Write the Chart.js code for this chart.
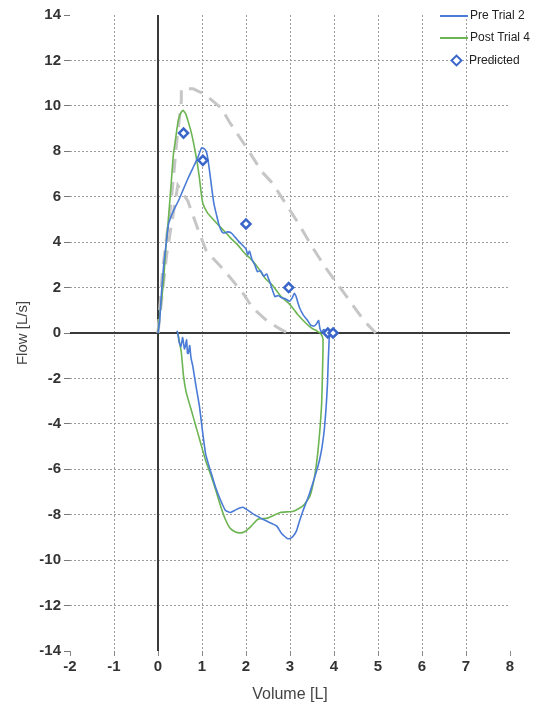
<!DOCTYPE html>
<html>
<head>
    <meta charset="UTF-8">
    <title>Flow-Volume Loop</title>
    <script src="https://cdn.jsdelivr.net/npm/chart.js"></script>
    <style>
        body { margin: 0; background: #fff; }
        #wrap { position: relative; width: 544px; height: 704px; }
        #legend { position: absolute; left: 0; top: 0; font-family: 'Liberation Sans', Arial, sans-serif; font-size: 12px; color: #222; }
        .item { position: absolute; white-space: nowrap; height: 16px; line-height: 16px; }
        .line { display: inline-block; width: 28px; height: 0; border-top: 2px solid; vertical-align: middle; margin-right: 2px; }
        .diamond { display: inline-block; width: 5px; height: 5px; border: 2px solid #3a66c9; background: #fff; transform: rotate(45deg); vertical-align: middle; margin: 0 8px 0 12px; }
    </style>
</head>
<body>
<div id="wrap">
    <canvas id="fvChart" width="544" height="704"></canvas>
    <!-- легенда поверх графика, справа сверху -->
    <div id="legend">
        <div class="item" style="left:440px; top:7px;"><span class="line" style="border-color:#4a7bd6"></span>Pre Trial 2</div>
        <div class="item" style="left:440px; top:29px;"><span class="line" style="border-color:#6cb552"></span>Post Trial 4</div>
        <div class="item" style="left:440px; top:52px;"><span class="diamond"></span>Predicted</div>
    </div>
</div>

<script>
    // Pre Trial 2: выдох, потом вдох (петля)
    const preVol = [0, 0.04, 0.08, 0.13, 0.19, 0.24, 0.31, 0.38, 0.46, 0.57, 0.68, 0.79, 0.9, 0.99, 1.06, 1.11, 1.16, 1.22, 1.27, 1.33, 1.38, 1.44, 1.49, 1.58, 1.67, 1.76, 1.85, 1.93, 2.0, 2.04, 2.08, 2.14, 2.2, 2.26, 2.33, 2.4, 2.47, 2.51, 2.55, 2.6, 2.66, 2.73, 2.81, 2.9, 2.99, 3.05, 3.1, 3.14, 3.17, 3.22, 3.3, 3.4, 3.47, 3.54, 3.6, 3.65, 3.68, 3.72, 3.77, 3.83, 3.9,
        3.89, 3.87, 3.85, 3.82, 3.78, 3.73, 3.67, 3.6, 3.52, 3.42, 3.3, 3.22, 3.15, 3.07, 3.0, 2.94, 2.89, 2.8, 2.7, 2.6, 2.49, 2.38, 2.27, 2.15, 2.04, 1.93, 1.84, 1.75, 1.64, 1.53, 1.42, 1.31, 1.23, 1.15, 1.08, 1.01, 0.94, 0.86, 0.79, 0.75, 0.72, 0.69, 0.67, 0.65, 0.62, 0.6, 0.56, 0.52, 0.48, 0.45, 0.43];
    const preFlow = [0, 0.6, 1.8, 3.0, 4.0, 4.8, 5.2, 5.5, 5.8, 6.3, 6.8, 7.25, 7.7, 8.15, 8.1, 7.9, 7.3, 6.4, 5.7, 5.2, 4.8, 4.5, 4.4, 4.45, 4.4, 4.2, 4.0, 3.85, 3.7, 3.45, 3.6, 3.2, 3.0, 2.7, 2.75, 2.5, 2.6, 2.4, 2.2, 1.9, 1.6, 1.65, 1.55, 1.5, 1.4, 1.55, 1.75, 1.6, 1.4, 1.1, 0.8, 0.55, 0.35, 0.3, 0.4, 0.55, 0.2, 0.05, 0.15, 0.0, 0.0,
        -0.3, -1.2, -2.3, -3.3, -4.25, -5.0, -5.6, -6.1, -6.6, -7.2, -7.8, -8.25, -8.7, -8.95, -9.05, -9.05, -8.97, -8.8, -8.5, -8.4, -8.3, -8.2, -8.08, -7.95, -7.8, -7.67, -7.72, -7.8, -7.9, -7.8, -7.35, -6.8, -6.3, -5.8, -5.3, -4.3, -3.2, -2.3, -1.45, -1.1, -0.55, -0.9, -0.9, -0.3, -0.6, -0.7, -0.2, -0.6, -0.4, 0.0, 0.1];

    // Post Trial 4
    const postVol = [0, 0.04, 0.09, 0.13, 0.18, 0.24, 0.3, 0.35, 0.41, 0.46, 0.52, 0.57, 0.63, 0.68, 0.76, 0.83, 0.89, 0.94, 0.98, 1.02, 1.12, 1.23, 1.35, 1.5, 1.64, 1.8, 1.93, 2.0, 2.14, 2.3, 2.44, 2.6, 2.8, 3.0, 3.18, 3.35, 3.5, 3.58, 3.64, 3.69,
        3.75, 3.74, 3.72, 3.68, 3.63, 3.56, 3.45, 3.3, 3.08, 2.78, 2.49, 2.27, 2.12, 1.97, 1.86, 1.75, 1.64, 1.53, 1.42, 1.31, 1.2, 1.08, 0.97, 0.86, 0.75, 0.64, 0.58, 0.53, 0.48, 0.45];
    const postFlow = [0, 0.8, 1.6, 2.4, 3.8, 5.1, 6.6, 7.85, 8.7, 9.35, 9.7, 9.8, 9.65, 9.35, 8.8, 8.15, 7.5, 6.85, 6.2, 5.7, 5.3, 5.05, 4.8, 4.5, 4.2, 3.9, 3.6, 3.45, 3.2, 2.8, 2.4, 2.1, 1.6, 1.25, 0.8, 0.45, 0.2, 0.13, 0.05, 0,
        -0.27, -1.6, -3.07, -4.25, -5.3, -6.3, -7.2, -7.6, -7.85, -7.9, -8.15, -8.2, -8.5, -8.75, -8.8, -8.75, -8.6, -8.2, -7.6, -6.9, -6.25, -5.6, -4.85, -4.1, -3.35, -2.6, -1.9, -0.85, -0.3, 0];

    // Predicted: PEF, FEF25, FEF50, FEF75, FVC
    const predVol = [0.58, 1.02, 2.0, 2.97, 3.86, 3.98];
    const predFlow = [8.8, 7.6, 4.8, 2.0, 0, 0];

    // Границы нормы (серый пунктир)
    const upperVol = [0, 0.1, 0.18, 0.29, 0.42, 0.53, 0.53, 0.8, 1.07, 1.44, 1.62, 2.0, 2.36, 2.6, 2.9, 3.2, 3.5, 3.8, 4.1, 4.4, 4.7, 4.95];
    const upperFlow = [0, 2.7, 4.0, 5.6, 8.3, 10.2, 10.75, 10.75, 10.5, 9.9, 9.3, 8.2, 7.1, 6.6, 5.7, 4.8, 3.8, 2.9, 2.1, 1.3, 0.5, 0];
    const lowerVol = [0, 0.2, 0.45, 0.68, 0.93, 1.1, 1.44, 1.7, 1.95, 2.15, 2.5, 2.8, 2.95];
    const lowerFlow = [0, 3.5, 6.5, 5.8, 4.45, 3.6, 2.9, 2.3, 1.7, 1.1, 0.5, 0.15, 0];

    // Оси
    const xTicks = [-2, -1, 0, 1, 2, 3, 4, 5, 6, 7, 8];
    const yTicks = [-14, -12, -10, -8, -6, -4, -2, 0, 2, 4, 6, 8, 10, 12, 14];

    function toPoints(xs, ys) {
        return xs.map((x, i) => ({ x: x, y: ys[i] }));
    }

    const FONT = "'Liberation Sans', Arial, sans-serif";

    // сетка не рисуется на краях и на нуле (ноль рисует плагин)
    function gridColor(edges) {
        return ctx => (edges.includes(ctx.tick.value) ? 'rgba(0,0,0,0)' : '#9c9c9c');
    }

    const zeroAxes = {
        id: 'zeroAxes',
        beforeDatasetsDraw(chart) {
            const { ctx, chartArea, scales } = chart;
            const x0 = scales.x.getPixelForValue(0);
            const y0 = scales.y.getPixelForValue(0);
            ctx.save();
            ctx.strokeStyle = '#3a3a3a';
            ctx.lineWidth = 2;
            ctx.beginPath();
            ctx.moveTo(x0, chartArea.top);
            ctx.lineTo(x0, chartArea.bottom);
            ctx.moveTo(chartArea.left, y0);
            ctx.lineTo(chartArea.right, y0);
            ctx.stroke();
            ctx.restore();
        }
    };

    const lineDs = (label, xs, ys, color) => ({
        label: label,
        data: toPoints(xs, ys),
        showLine: true,
        borderColor: color,
        borderWidth: 1.6,
        pointRadius: 0,
        tension: 0.15,
        fill: false
    });

    const envDs = (label, xs, ys) => ({
        label: label,
        data: toPoints(xs, ys),
        showLine: true,
        borderColor: '#c6c6c6',
        borderWidth: 3,
        borderDash: [14, 9],
        pointRadius: 0,
        tension: 0,
        fill: false
    });

    const chart = new Chart(document.getElementById('fvChart').getContext('2d'), {
        type: 'scatter',
        data: {
            datasets: [
                {
                    label: 'Predicted',
                    data: toPoints(predVol, predFlow),
                    pointStyle: 'rectRot',
                    pointRadius: 4.5,
                    borderWidth: 2.5,
                    borderColor: '#3a66c9',
                    backgroundColor: '#ffffff',
                    showLine: false
                },
                lineDs('Pre Trial 2', preVol, preFlow, '#4a7bd6'),
                lineDs('Post Trial 4', postVol, postFlow, '#6cb552'),
                envDs('upper', upperVol, upperFlow),
                envDs('lower', lowerVol, lowerFlow)
            ]
        },
        options: {
            responsive: false,
            animation: false,
            layout: { padding: { top: 15, right: 34, left: 0, bottom: 0 } },
            plugins: { legend: { display: false }, tooltip: { enabled: false } },
            scales: {
                x: {
                    type: 'linear',
                    min: xTicks[0],
                    max: xTicks[xTicks.length - 1],
                    afterFit: s => { s.height = 53; },
                    afterBuildTicks: s => { s.ticks = xTicks.map(v => ({ value: v })); },
                    ticks: { color: '#333', font: { family: FONT, size: 15, weight: 'bold' }, padding: 2, maxRotation: 0 },
                    grid: { color: gridColor([-2, 0, 8]), tickColor: '#8a8a8a', tickLength: 5, lineWidth: 1 },
                    border: { display: false, dash: [2, 2] },
                    title: { display: true, text: 'Volume [L]', color: '#444', font: { family: FONT, size: 16 }, padding: { top: 0, bottom: 0 } }
                },
                y: {
                    type: 'linear',
                    min: yTicks[0],
                    max: yTicks[yTicks.length - 1],
                    afterFit: s => { s.width = 70; },
                    afterBuildTicks: s => { s.ticks = yTicks.map(v => ({ value: v })); },
                    ticks: { color: '#333', font: { family: FONT, size: 15, weight: 'bold' }, padding: 3 },
                    grid: { color: gridColor([-14, 0, 14]), tickColor: '#777', tickLength: 6, lineWidth: 1 },
                    border: { display: false, dash: [2, 2] },
                    title: { display: true, text: 'Flow [L/s]', color: '#444', font: { family: FONT, size: 15 }, padding: { top: 14, bottom: 0 } }
                }
            }
        },
        plugins: [zeroAxes]
    });
</script>
</body>
</html>
